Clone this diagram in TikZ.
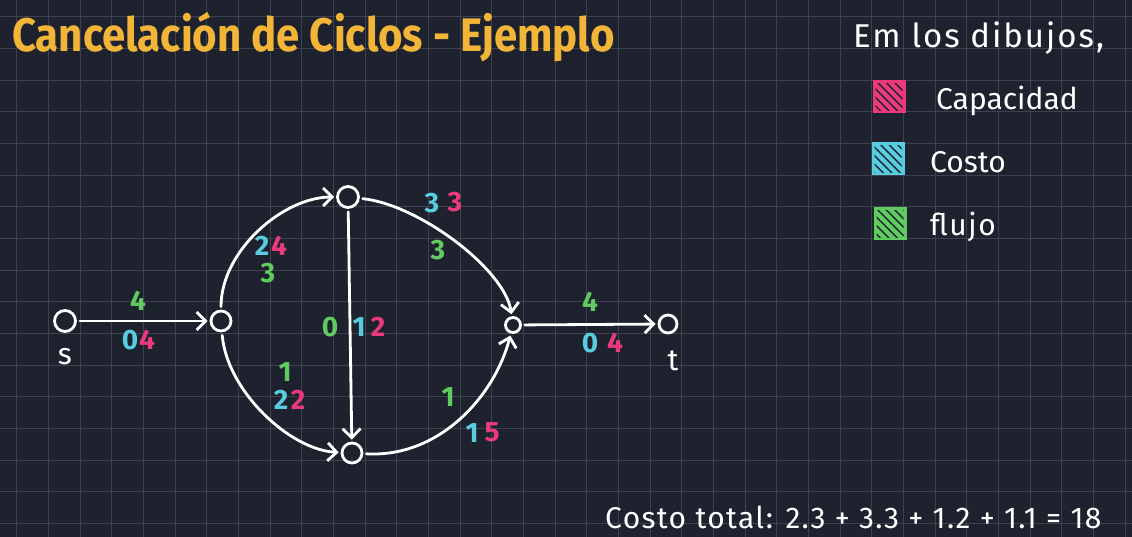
\documentclass[tikz,border=0pt]{standalone}
\usepackage{fontspec}
\setmainfont{Fira Sans}
\usetikzlibrary{arrows.meta,patterns.meta}
\definecolor{bgcol}{RGB}{30,34,46}
\definecolor{gridcol}{RGB}{62,66,80}
\definecolor{ttl}{RGB}{242,181,55}
\definecolor{cap}{RGB}{234,58,124}
\definecolor{cst}{RGB}{88,205,224}
\definecolor{flw}{RGB}{96,204,96}
\tikzset{
  vtx/.style={circle,draw=white,line width=2.8pt,minimum size=20pt,inner sep=0pt},
  edge/.style={draw=white,line width=2.8pt,line cap=round,-{Straight Barb[length=9pt,width=18pt,line width=2.8pt]},shorten >=2pt,shorten <=3pt},
  num/.style={font=\fontsize{28}{28}\selectfont\bfseries,inner sep=0pt},
  lbl/.style={font=\fontsize{30}{30}\selectfont,text=white,inner sep=0pt},
  legsq/.style={minimum size=31pt,inner sep=0pt,line width=2pt},
}
\begin{document}
\begin{tikzpicture}[x=1pt,y=-1pt]
\fill[bgcol] (0,0) rectangle (1132,537);
\useasboundingbox (0,0) rectangle (1132,537);
\foreach \k in {0,...,35} \draw[gridcol,line width=1pt] ({16.7+31.67*\k},0) -- ({16.7+31.67*\k},537);
\foreach \k in {0,...,16} \draw[gridcol,line width=1pt] (0,{16.7+31.67*\k}) -- (1132,{16.7+31.67*\k});

% title
\node[anchor=west,text=ttl,font=\fontsize{42}{42}\selectfont\bfseries,inner sep=0pt,yscale=1.12] (title) at (12,37) {Cancelación de Ciclos - Ejemplo};

% legend
\node[anchor=west,text=white,font=\fontsize{33}{33}\selectfont\addfontfeature{LetterSpace=6},inner sep=0pt] (leghead) at (853,38) {Em los dibujos,};
\node[legsq,draw=cap,fill=cap] (sqcap) at (889,97) {};
\node[legsq,draw=cst,fill=cst] (sqcst) at (888,159) {};
\node[legsq,draw=flw,fill=flw] (sqflw) at (890,224) {};
\foreach \s in {sqcap,sqcst,sqflw}
  \fill[pattern={Lines[angle=-45,distance=6pt,line width=1.4pt]},pattern color=bgcol] ([shift={(3,3)}]\s.north west) rectangle ([shift={(-3,-3)}]\s.south east);
\node[anchor=west,lbl] (tcap) at (936,101) {Capacidad};
\node[anchor=west,lbl] (tcst) at (930,162) {Costo};
\node[anchor=west,lbl,font=\fontsize{30}{30}\selectfont\addfontfeature{LetterSpace=5}] (tflw) at (930,227) {flujo};

% vertices
\node[vtx,minimum size=21pt] (s) at (65,321) {};
\node[vtx] (a) at (221,321) {};
\node[vtx,minimum size=21pt] (b) at (348,197) {};
\node[vtx] (c) at (352,453) {};
\node[vtx,minimum size=15pt] (d) at (513,325) {};
\node[vtx,minimum size=18pt] (t) at (668,324) {};
\node[lbl] (ls) at (65,357) {s};
\node[lbl] (lt) at (673,361) {t};

% edges
\draw[edge] (s) -- (a);
\draw[edge] (a) .. controls +(0,-70) and +(-65,0) .. (b);
\draw[edge] (a) .. controls +(6,70) and +(-62,-3) .. (c);
\draw[edge] (b) -- (c);
\draw[edge] (b) .. controls +(72,8) and +(-8,-55) .. (d);
\draw[edge] (c) .. controls +(88,5) and +(-18,70) .. (d);
\draw[edge] (d) -- (t);

% edge labels
\node[num,text=flw] (sa1) at (138,301) {4};
\node[num,text=cst] (sa2) at (130,340) {0};
\node[num,text=cap] (sa3) at (147,340) {4};

\node[num,text=cst] (ab1) at (262,246) {2};
\node[num,text=cap] (ab2) at (279,246) {4};
\node[num,text=flw] (ab3) at (268,273) {3};

\node[num,text=flw] (ac1) at (285,372) {1};
\node[num,text=cst] (ac2) at (281,400) {2};
\node[num,text=cap] (ac3) at (298,400) {2};

\node[num,text=flw] (bc1) at (330,327) {0};
\node[num,text=cst] (bc2) at (359,327) {1};
\node[num,text=cap] (bc3) at (378,327) {2};

\node[num,text=cst] (bd1) at (432,203) {3};
\node[num,text=cap] (bd2) at (455,202) {3};
\node[num,text=flw] (bd3) at (438,250) {3};

\node[num,text=flw] (cd1) at (448,397) {1};
\node[num,text=cst] (cd2) at (472,433) {1};
\node[num,text=cap] (cd3) at (492,432) {5};

\node[num,text=flw] (dt1) at (590,302) {4};
\node[num,text=cst] (dt2) at (590,343) {0};
\node[num,text=cap] (dt3) at (615,343) {4};

% total
\node[anchor=west,text=white,font=\fontsize{30}{30}\selectfont\addfontfeature{LetterSpace=4.5},inner sep=0pt] (total) at (605,517) {Costo total: 2.3 + 3.3 + 1.2 + 1.1 = 18};
\end{tikzpicture}
\end{document}
